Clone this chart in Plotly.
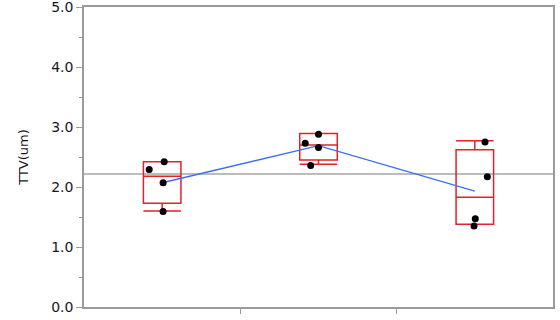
import plotly.graph_objects as go

# Data
groups = [1, 2, 3]
values = [
    [2.42, 2.29, 2.07, 1.59],
    [2.88, 2.73, 2.66, 2.36],
    [2.75, 2.17, 1.47, 1.35],
]
jitter = [
    [0.013, -0.083, 0.006, 0.006],
    [0.0, -0.085, 0.0, -0.05],
    [0.065, 0.08, 0.003, -0.005],
]
q1 = [1.73, 2.45, 1.38]
median = [2.18, 2.70, 1.83]
q3 = [2.42, 2.89, 2.62]
lowerfence = [1.60, 2.38, 1.38]
upperfence = [2.42, 2.89, 2.77]
means = [2.07, 2.69, 1.93]
grand_mean = 2.217
y_ticks = [0, 1, 2, 3, 4, 5]
y_label = "TTV(um)"

fig = go.Figure()

fig.add_trace(go.Box(
    x=groups, q1=q1, median=median, q3=q3,
    lowerfence=lowerfence, upperfence=upperfence,
    width=0.24, whiskerwidth=1,
    line=dict(color="#e3202c", width=1.5),
    fillcolor="rgba(0,0,0,0)", boxpoints=False,
    hoverinfo="skip", showlegend=False,
))

fig.add_trace(go.Scatter(
    x=groups, y=means, mode="lines",
    line=dict(color="#3a6ff0", width=1.4),
    showlegend=False, hoverinfo="skip",
))

px, py = [], []
for g, vals, js in zip(groups, values, jitter):
    for v, j in zip(vals, js):
        px.append(g + j)
        py.append(v)
fig.add_trace(go.Scatter(
    x=px, y=py, mode="markers",
    marker=dict(color="black", size=7),
    showlegend=False, hoverinfo="skip",
))

fig.add_shape(type="line", xref="paper", yref="y", x0=0, x1=1,
              y0=grand_mean, y1=grand_mean,
              line=dict(color="#7a7a7a", width=1.2), layer="below")

axis_line = "#9a9a9a"
fig.update_layout(
    width=560, height=320,
    margin=dict(l=84, r=7, t=7, b=13),
    plot_bgcolor="white", paper_bgcolor="white",
    font=dict(family="DejaVu Sans", size=14, color="#151525"),
    xaxis=dict(
        range=[0.5, 3.5], tickvals=[1.5, 2.5], ticktext=["", ""],
        ticks="outside", ticklen=5, tickcolor=axis_line,
        showgrid=False, zeroline=False, automargin=False,
        showline=True, linecolor=axis_line, linewidth=1.5, mirror=True,
    ),
    yaxis=dict(
        range=[0, 5], tickvals=y_ticks, tickformat=".1f",
        ticks="outside", ticklen=6, tickcolor=axis_line,
        ticklabeloverflow="allow",
        minor=dict(dtick=0.5, ticks="outside", ticklen=3, tickcolor=axis_line),
        showgrid=False, zeroline=False, automargin=False,
        showline=True, linecolor=axis_line, linewidth=1.5, mirror=True,
        title=dict(text=y_label, standoff=20, font=dict(size=13)),
    ),
)

fig.write_html("out.html")
